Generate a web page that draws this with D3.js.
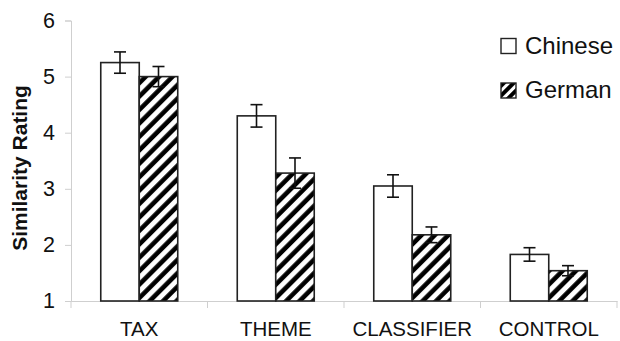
<!DOCTYPE html>
<html>
<head>
<meta charset="utf-8">
<script src="https://cdn.jsdelivr.net/npm/d3@7"></script>
<style>
  html, body { margin: 0; padding: 0; background: #fff; }
  svg { display: block; font-family: "Liberation Sans", Arial, sans-serif; }
</style>
</head>
<body>
<svg id="chart" width="620" height="341"></svg>
<script>
// Mean similarity ratings per condition, with error bars (±)
const categories = ["TAX", "THEME", "CLASSIFIER", "CONTROL"];
const seriesNames = ["Chinese", "German"];
const chineseValues = [5.25, 4.30, 3.05, 1.83];
const chineseErrors = [0.19, 0.20, 0.20, 0.12];
const germanValues = [5.00, 3.28, 2.18, 1.54];
const germanErrors = [0.18, 0.27, 0.14, 0.09];
const yTicks = [1, 2, 3, 4, 5, 6];

const values = { Chinese: chineseValues, German: germanValues };
const errors = { Chinese: chineseErrors, German: germanErrors };

const rows = categories.map((c, i) => ({
  category: c,
  bars: seriesNames.map(s => ({ series: s, value: values[s][i], err: errors[s][i] }))
}));

const svg = d3.select("#chart");
const plotLeft = 71, plotRight = 617, plotTop = 20.5, plotBottom = 301;

const x = d3.scaleBand().domain(categories).range([plotLeft, plotRight]).padding(0);
const xInner = d3.scaleBand().domain(seriesNames).range([0, x.bandwidth()])
  .paddingInner(0).paddingOuter(0.773);
const y = d3.scaleLinear().domain([1, 6]).range([plotBottom, plotTop]);

// Diagonal hatch for the German series
const defs = svg.append("defs");
const pat = defs.append("pattern")
  .attr("id", "hatch")
  .attr("patternUnits", "userSpaceOnUse")
  .attr("width", 9.5).attr("height", 9.5)
  .attr("patternTransform", "rotate(45)");
pat.append("rect").attr("width", 9.5).attr("height", 9.5).attr("fill", "#fff");
pat.append("line").attr("x1", 2.5).attr("y1", 0).attr("x2", 2.5).attr("y2", 9.5)
  .attr("stroke", "#000").attr("stroke-width", 4.6);

const fills = { Chinese: "#fff", German: "url(#hatch)" };
const gray = "#cfcfcf";

// Y axis
const yAxis = svg.append("g")
  .attr("transform", `translate(${plotLeft},0)`)
  .call(d3.axisLeft(y).tickValues(yTicks).tickFormat(d3.format("d")).tickSize(6).tickPadding(10));
yAxis.select(".domain").attr("stroke", gray);
yAxis.selectAll(".tick line").attr("stroke", gray);
yAxis.selectAll(".tick text").attr("font-size", 21.5).attr("fill", "#111")
  .attr("font-family", "'Liberation Sans', Arial, sans-serif");

// X axis: ticks at category boundaries
const xAxis = svg.append("g")
  .attr("transform", `translate(0,${plotBottom})`)
  .call(d3.axisBottom(x).tickSize(0).tickFormat(""));
xAxis.select(".domain").attr("stroke", gray);
xAxis.selectAll(".tick").remove();
const bounds = categories.map(c => x(c)).concat([x(categories[categories.length - 1]) + x.bandwidth()]);
xAxis.selectAll(".bound").data(bounds).join("line")
  .attr("class", "bound")
  .attr("x1", d => d).attr("x2", d => d)
  .attr("y1", 0).attr("y2", 7)
  .attr("stroke", gray);

// Category labels
svg.append("g").selectAll("text").data(categories).join("text")
  .attr("x", d => x(d) + x.bandwidth() / 2)
  .attr("y", 336)
  .attr("text-anchor", "middle")
  .attr("font-size", 20.5)
  .attr("fill", "#111")
  .text(d => d);

// Y axis title
svg.append("text")
  .attr("transform", "translate(27,168) rotate(-90)")
  .attr("text-anchor", "middle")
  .attr("font-size", 21)
  .attr("font-weight", "bold")
  .attr("fill", "#111")
  .text("Similarity Rating");

// Bars
const groups = svg.append("g").selectAll("g").data(rows).join("g")
  .attr("transform", d => `translate(${x(d.category)},0)`);

groups.selectAll("rect").data(d => d.bars).join("rect")
  .attr("x", d => xInner(d.series))
  .attr("y", d => y(d.value))
  .attr("width", xInner.bandwidth())
  .attr("height", d => y(1) - y(d.value))
  .attr("fill", d => fills[d.series])
  .attr("stroke", "#222")
  .attr("stroke-width", 1.6);

// Error bars
const capHalf = 6;
const eb = groups.selectAll("g.err").data(d => d.bars).join("g").attr("class", "err")
  .attr("stroke", "#111").attr("stroke-width", 1.6);
eb.append("line")
  .attr("x1", d => xInner(d.series) + xInner.bandwidth() / 2)
  .attr("x2", d => xInner(d.series) + xInner.bandwidth() / 2)
  .attr("y1", d => y(d.value + d.err))
  .attr("y2", d => y(d.value - d.err));
eb.append("line")
  .attr("x1", d => xInner(d.series) + xInner.bandwidth() / 2 - capHalf)
  .attr("x2", d => xInner(d.series) + xInner.bandwidth() / 2 + capHalf)
  .attr("y1", d => y(d.value + d.err))
  .attr("y2", d => y(d.value + d.err));
eb.append("line")
  .attr("x1", d => xInner(d.series) + xInner.bandwidth() / 2 - capHalf)
  .attr("x2", d => xInner(d.series) + xInner.bandwidth() / 2 + capHalf)
  .attr("y1", d => y(d.value - d.err))
  .attr("y2", d => y(d.value - d.err));

// Legend
const legendPat = defs.append("pattern")
  .attr("id", "hatchSmall")
  .attr("patternUnits", "userSpaceOnUse")
  .attr("width", 7).attr("height", 7)
  .attr("patternTransform", "translate(501,83) rotate(45)");
legendPat.append("rect").attr("width", 7).attr("height", 7).attr("fill", "#fff");
legendPat.append("line").attr("x1", 2).attr("y1", 0).attr("x2", 2).attr("y2", 7)
  .attr("stroke", "#000").attr("stroke-width", 4);
const legendFills = { Chinese: "#fff", German: "url(#hatchSmall)" };

const legend = svg.append("g").selectAll("g").data(seriesNames).join("g")
  .attr("transform", (d, i) => `translate(501,${38.5 + i * 44.5})`);
legend.append("rect")
  .attr("width", 15).attr("height", 15)
  .attr("fill", d => legendFills[d])
  .attr("stroke", "#222").attr("stroke-width", 1.4);
legend.append("text")
  .attr("x", 24).attr("y", 15)
  .attr("font-size", 24)
  .attr("fill", "#111")
  .text(d => d);
</script>
</body>
</html>
